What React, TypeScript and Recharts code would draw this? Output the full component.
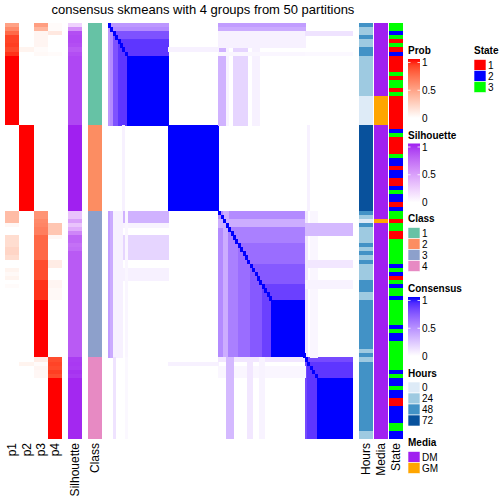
import { ScatterChart, Scatter, XAxis, YAxis } from 'recharts'

// 102 samples split into 4 consensus classes
const N = 102
const groupSizes = [25, 21, 36, 20]

type Run = [number, number] // [value, number of rows]
const expand = (runs: Run[]) => runs.flatMap(([v, n]) => Array(n).fill(v) as number[])

// membership probabilities per class, top to bottom
const p1Runs: Run[] = [
  [0.48, 1], [0.6, 1], [0.74, 1], [0.88, 2], [0.9, 1], [0.86, 1], [0.93, 1], [1, 17],
  [0, 21],
  [0.35, 3], [0.04, 1], [0, 2], [0.18, 3], [0.22, 2], [0.18, 1], [0, 2], [0.06, 1], [0.03, 1], [0.06, 1], [0, 1], [0.02, 1], [0, 17],
  [0, 20],
]
const p2Runs: Run[] = [
  [0, 6], [0.06, 1], [0, 18],
  [1, 21],
  [0, 36],
  [0, 1], [0.06, 1], [0, 18],
]
const p3Runs: Run[] = [
  [0.5, 1], [0.38, 1], [0.05, 4], [0.02, 1], [0.03, 1], [0, 17],
  [0, 21],
  [0.55, 2], [0.6, 1], [0.62, 1], [0.65, 2], [0.75, 6], [0.85, 5], [0.93, 5], [1, 14],
  [0.1, 1], [0.02, 1], [0.05, 1], [0.04, 2], [0, 15],
]
const p4Runs: Run[] = [
  [0.02, 2], [0.12, 1], [0, 4], [0.02, 1], [0, 17],
  [0, 21],
  [0, 3], [0.3, 3], [0.04, 1], [0, 5], [0.1, 2], [0, 3], [0.05, 2], [0.03, 3], [0, 14],
  [0.85, 1], [0.88, 1], [0.86, 1], [0.9, 1], [0.86, 1], [1, 15],
]
const silhouetteRuns: Run[] = [
  [0.22, 1], [0.55, 1], [0.85, 1], [0.87, 2], [0.85, 1], [0.8, 1], [0.85, 1], [0.88, 17],
  [1, 21],
  [0.3, 2], [0.48, 1], [0.3, 1], [0.42, 1], [0.6, 1], [0.75, 2], [0.7, 1], [0.72, 1], [0.8, 26],
  [0.92, 1], [0.93, 1], [0.92, 1], [0.95, 1], [0.93, 1], [0.98, 15],
]
const hoursRuns: Run[] = [
  [48, 1], [24, 2], [48, 1], [24, 2], [48, 2], [24, 10], [0, 7],
  [72, 21],
  [48, 1], [24, 1], [0, 1], [48, 1], [24, 4], [48, 1], [24, 1], [48, 1], [24, 1], [48, 1], [24, 4], [48, 3], [24, 2], [48, 12], [24, 1], [48, 1],
  [24, 1], [48, 17], [24, 2],
]
// 0 = DM, 1 = GM
const mediaRuns: Run[] = [[0, 18], [1, 7], [0, 21], [0, 2], [1, 1], [0, 33], [0, 20]]
const stateRuns: Run[] = [
  [3, 2], [2, 1], [3, 1], [1, 1], [3, 1], [1, 1], [2, 1], [1, 4], [3, 1], [1, 1], [3, 2], [1, 1], [3, 1],
  [1, 8], [2, 1], [3, 1], [1, 4], [3, 1], [2, 2], [1, 1], [2, 2], [1, 2], [2, 1], [3, 1], [2, 2], [1, 1], [2, 1],
  [3, 2], [1, 1], [3, 2], [1, 2], [3, 6], [2, 1], [3, 1], [2, 1], [1, 1], [3, 1], [2, 1], [3, 2], [2, 1], [3, 6],
  [2, 1], [3, 1], [2, 2], [3, 7], [2, 1], [3, 1], [2, 2], [3, 1], [2, 2], [1, 2], [2, 4], [3, 2], [2, 2],
]

// consensus matrix: [rowFrom, rowTo, colFrom, colTo, value], mirrored across the diagonal
const consensusBlocks: number[][] = [
  [0, 25, 0, 25, 0.45],
  [1, 25, 1, 25, 0.5],
  [2, 25, 2, 25, 0.75],
  [4, 25, 4, 25, 0.86],
  [8, 25, 8, 25, 1],
  [25, 46, 25, 46, 1],
  [46, 82, 46, 82, 0.5],
  [48, 50, 46, 82, 0.35],
  [50, 82, 50, 82, 0.55],
  [54, 82, 54, 82, 0.63],
  [59, 82, 59, 82, 0.72],
  [64, 82, 64, 82, 0.82],
  [68, 82, 68, 82, 1],
  [82, 102, 82, 102, 0.78],
  [83, 102, 83, 102, 0.86],
  [87, 102, 87, 102, 1],
  [0, 25, 46, 49, 0.33],
  [0, 25, 49, 50, 0.05],
  [0, 25, 52, 58, 0.18],
  [0, 25, 60, 63, 0.06],
  [0, 1, 46, 82, 0.42],
  [1, 2, 46, 82, 0.36],
  [2, 6, 46, 82, 0.06],
  [7, 8, 46, 82, 0.04],
  [6, 7, 25, 46, 0.06],
  [2, 3, 82, 102, 0.12],
  [7, 8, 82, 102, 0.03],
  [46, 82, 82, 83, 0.1],
  [46, 82, 84, 87, 0.04],
  [49, 52, 82, 102, 0.3],
  [58, 60, 82, 102, 0.1],
  [63, 65, 82, 102, 0.05],
  [25, 46, 83, 84, 0.06],
]

const classColors = ['#66C2A5', '#FC8D62', '#8DA0CB', '#E78AC3']
const classLabels = ['1', '2', '3', '4']
const hoursLevels = [0, 24, 48, 72]
const hoursColors = ['#DEEBF7', '#9ECAE1', '#4292C6', '#08519C']
const mediaLabels = ['DM', 'GM']
const mediaColors = ['#A020F0', '#FFA500']
const stateLabels = ['1', '2', '3']
const stateColors = ['#FF0000', '#0000FF', '#00FF00']

// colour ramps interpolated in LAB like colorRamp2
const lin = (c: number) => { const v = c / 255; return v <= 0.04045 ? v / 12.92 : Math.pow((v + 0.055) / 1.055, 2.4) }
const gam = (v: number) => { const c = v <= 0.0031308 ? 12.92 * v : 1.055 * Math.pow(v, 1 / 2.4) - 0.055; return Math.round(Math.min(1, Math.max(0, c)) * 255) }
const EPS = 216 / 24389
const KAP = 24389 / 27
const fLab = (t: number) => (t > EPS ? Math.cbrt(t) : (KAP * t + 16) / 116)
const fInv = (t: number) => (t * t * t > EPS ? t * t * t : (116 * t - 16) / KAP)
function toLab(hex: string) {
  const r = lin(parseInt(hex.slice(1, 3), 16))
  const g = lin(parseInt(hex.slice(3, 5), 16))
  const b = lin(parseInt(hex.slice(5, 7), 16))
  const fx = fLab((0.4124 * r + 0.3576 * g + 0.1805 * b) / 0.95047)
  const fy = fLab(0.2126 * r + 0.7152 * g + 0.0722 * b)
  const fz = fLab((0.0193 * r + 0.1192 * g + 0.9505 * b) / 1.08883)
  return [116 * fy - 16, 500 * (fx - fy), 200 * (fy - fz)]
}
function fromLab([L, a, b]: number[]) {
  const fy = (L + 16) / 116
  const x = fInv(fy + a / 500) * 0.95047
  const y = fInv(fy)
  const z = fInv(fy - b / 200) * 1.08883
  const rgb = [
    gam(3.2406 * x - 1.5372 * y - 0.4986 * z),
    gam(-0.9689 * x + 1.8758 * y + 0.0415 * z),
    gam(0.0557 * x - 0.204 * y + 1.057 * z),
  ]
  return '#' + rgb.map((v) => v.toString(16).padStart(2, '0')).join('')
}
const ramp = (to: string) => {
  const a = toLab('#FFFFFF')
  const b = toLab(to)
  return (t: number) => fromLab(a.map((v, k) => v + (b[k] - v) * t))
}
const probColor = ramp('#FF0000')
const silColor = ramp('#A020F0')
const consColor = ramp('#0000FF')

const PANEL_TOP = 23
const PANEL_H = 416
const FONT = '"Liberation Sans", Arial, sans-serif'

interface Cell { x: number; y: number; w: number; h: number; fill: string }

const rowClass = groupSizes.flatMap((n, g) => Array(n).fill(g) as number[])
const columnCells = (values: number[], color: (v: number) => string, col = 0): Cell[] =>
  values.map((v, i) => ({ x: col + 0.5, y: i + 0.5, w: 1, h: 1, fill: color(v) }))

const probCells = [p1Runs, p2Runs, p3Runs, p4Runs].flatMap((runs, k) => columnCells(expand(runs), probColor, k))
const silCells = columnCells(expand(silhouetteRuns), silColor)
const classCells = columnCells(rowClass, (g) => classColors[g])
const hoursCells = columnCells(expand(hoursRuns), (h) => hoursColors[hoursLevels.indexOf(h)])
const mediaCells = columnCells(expand(mediaRuns), (m) => mediaColors[m])
const stateCells = columnCells(expand(stateRuns), (s) => stateColors[s - 1])

const matrixCells: Cell[] = []
consensusBlocks.forEach(([r0, r1, c0, c1, v]) => {
  const fill = consColor(v)
  matrixCells.push({ x: (c0 + c1) / 2, y: (r0 + r1) / 2, w: c1 - c0, h: r1 - r0, fill })
  if (r0 !== c0 || r1 !== c1) matrixCells.push({ x: (r0 + r1) / 2, y: (c0 + c1) / 2, w: r1 - r0, h: c1 - c0, fill })
})
for (let i = 0; i < N; i++) matrixCells.push({ x: i + 0.5, y: i + 0.5, w: 1, h: 1, fill: consColor(1) })

function HeatPanel({ left, width, cols, cells }: { left: number; width: number; cols: number; cells: Cell[] }) {
  const cw = width / cols
  const ch = PANEL_H / N
  return (
    <div style={{ position: 'absolute', left, top: PANEL_TOP, width, height: PANEL_H }}>
      <ScatterChart width={width} height={PANEL_H} margin={{ top: 0, right: 0, bottom: 0, left: 0 }}>
        <XAxis type="number" dataKey="x" domain={[0, cols]} scale="linear" allowDataOverflow hide />
        <YAxis type="number" dataKey="y" domain={[0, N]} scale="linear" allowDataOverflow reversed hide />
        <Scatter
          data={cells}
          isAnimationActive={false}
          shape={(p: any) => {
            const d = p.payload as Cell
            const x0 = p.cx - (d.w * cw) / 2
            const y0 = p.cy - (d.h * ch) / 2
            return (
              <rect
                x={x0}
                y={y0}
                width={Math.min(d.w * cw + 0.6, width - x0)}
                height={Math.min(d.h * ch + 0.6, PANEL_H - y0)}
                fill={d.fill}
                shapeRendering="crispEdges"
              />
            )
          }}
        />
      </ScatterChart>
    </div>
  )
}

function GradientLegend({ x, top, title, color, id }: { x: number; top: number; title: string; color: (t: number) => string; id: string }) {
  const stops = [0, 0.1, 0.2, 0.3, 0.4, 0.5, 0.6, 0.7, 0.8, 0.9, 1]
  const yOf = (v: number) => top + 8.5 + (1 - v) * 55.5
  return (
    <g>
      <defs>
        <linearGradient id={id} x1="0" y1="1" x2="0" y2="0">
          {stops.map((t) => <stop key={t} offset={t} stopColor={color(t)} />)}
        </linearGradient>
      </defs>
      <text x={x} y={top} fontSize={10} fontWeight="bold">{title}</text>
      <rect x={x} y={top + 5} width={12} height={59} fill={`url(#${id})`} />
      {[1, 0.5].map((v) => (
        <g key={v} stroke="#fff" strokeWidth={0.8}>
          <line x1={x} x2={x + 2.5} y1={yOf(v)} y2={yOf(v)} />
          <line x1={x + 9.5} x2={x + 12} y1={yOf(v)} y2={yOf(v)} />
        </g>
      ))}
      {[1, 0.5, 0].map((v) => (
        <text key={v} x={x + 14} y={yOf(v) + 3.6} fontSize={10}>{String(v)}</text>
      ))}
    </g>
  )
}

function BoxLegend({ x, top, title, labels, colors }: { x: number; top: number; title: string; labels: string[]; colors: string[] }) {
  return (
    <g>
      <text x={x} y={top} fontSize={10} fontWeight="bold">{title}</text>
      {labels.map((l, k) => (
        <g key={l}>
          <rect x={x} y={top + 5.5 + k * 11} width={12} height={11} fill={colors[k]} stroke="#fff" strokeWidth={0.6} />
          <text x={x + 14} y={top + 5.5 + k * 11 + 9} fontSize={10}>{l}</text>
        </g>
      ))}
    </g>
  )
}

const bottomLabels: [string, number][] = [
  ['p1', 12.1], ['p2', 26.4], ['p3', 40.6], ['p4', 54.9],
  ['Silhouette', 75], ['Class', 95], ['Hours', 366], ['Media', 381], ['State', 396],
]

export default function App() {
  return (
    <div style={{ position: 'absolute', left: 0, top: 0, width: 504, height: 504, background: '#fff', fontFamily: FONT }}>
      <HeatPanel left={5} width={57} cols={4} cells={probCells} />
      <HeatPanel left={68} width={14} cols={1} cells={silCells} />
      <HeatPanel left={88} width={14} cols={1} cells={classCells} />
      <HeatPanel left={108} width={245} cols={N} cells={matrixCells} />
      <HeatPanel left={359} width={14} cols={1} cells={hoursCells} />
      <HeatPanel left={374} width={14} cols={1} cells={mediaCells} />
      <HeatPanel left={389} width={14} cols={1} cells={stateCells} />
      <svg width={504} height={504} style={{ position: 'absolute', left: 0, top: 0, pointerEvents: 'none' }} fontFamily={FONT}>
        <text x={203} y={14} fontSize={13} textAnchor="middle">consensus skmeans with 4 groups from 50 partitions</text>
        {bottomLabels.map(([l, cx]) => (
          <text key={l} x={cx + 4.3} y={443} fontSize={12} textAnchor="end" transform={`rotate(-90 ${cx + 4.3} 443)`}>{l}</text>
        ))}
        <GradientLegend x={408} top={54} title="Prob" color={probColor} id="gProb" />
        <GradientLegend x={408} top={138.5} title="Silhouette" color={silColor} id="gSil" />
        <BoxLegend x={408} top={222} title="Class" labels={classLabels} colors={classColors} />
        <GradientLegend x={408} top={292} title="Consensus" color={consColor} id="gCons" />
        <BoxLegend x={408} top={376.5} title="Hours" labels={hoursLevels.map(String)} colors={hoursColors} />
        <BoxLegend x={408} top={446} title="Media" labels={mediaLabels} colors={mediaColors} />
        <BoxLegend x={474} top={54} title="State" labels={stateLabels} colors={stateColors} />
      </svg>
    </div>
  )
}
